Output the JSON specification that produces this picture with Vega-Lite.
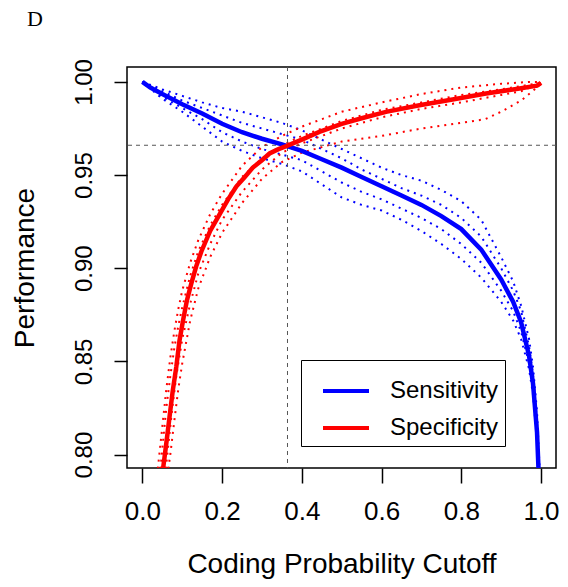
{
  "$schema": "https://vega.github.io/schema/vega-lite/v6.json",
  "width": 429,
  "height": 401,
  "autosize": {"type": "none"},
  "padding": {"left": 127, "top": 67, "right": 12, "bottom": 119},
  "background": "white",
  "title": {"text": "D", "anchor": "start", "frame": "group", "font": "Liberation Serif", "fontSize": 22, "fontWeight": "normal", "color": "black", "dx": -100, "offset": 11, "baseline": "alphabetic"},
  "config": {
    "view": {"stroke": "black", "strokeWidth": 1.5},
    "axis": {"grid": false, "domain": false, "tickColor": "black", "tickWidth": 1.5, "labelFont": "Liberation Sans", "labelColor": "black", "titleFont": "Liberation Sans", "titleColor": "black", "titleFontWeight": "normal"},
    "legend": {"labelFont": "Liberation Sans"}
  },
  "datasets": {
    "main": [
      {"m": "Sensitivity", "x": 0.0, "y": 1.0},
      {"m": "Sensitivity", "x": 0.02, "y": 0.997},
      {"m": "Sensitivity", "x": 0.05, "y": 0.9935},
      {"m": "Sensitivity", "x": 0.1, "y": 0.988},
      {"m": "Sensitivity", "x": 0.15, "y": 0.983},
      {"m": "Sensitivity", "x": 0.2, "y": 0.9775},
      {"m": "Sensitivity", "x": 0.25, "y": 0.973},
      {"m": "Sensitivity", "x": 0.3, "y": 0.9695},
      {"m": "Sensitivity", "x": 0.35, "y": 0.9665},
      {"m": "Sensitivity", "x": 0.4, "y": 0.963},
      {"m": "Sensitivity", "x": 0.45, "y": 0.9585},
      {"m": "Sensitivity", "x": 0.5, "y": 0.954},
      {"m": "Sensitivity", "x": 0.55, "y": 0.949},
      {"m": "Sensitivity", "x": 0.6, "y": 0.944},
      {"m": "Sensitivity", "x": 0.65, "y": 0.939},
      {"m": "Sensitivity", "x": 0.7, "y": 0.934},
      {"m": "Sensitivity", "x": 0.75, "y": 0.928},
      {"m": "Sensitivity", "x": 0.8, "y": 0.921},
      {"m": "Sensitivity", "x": 0.85, "y": 0.91},
      {"m": "Sensitivity", "x": 0.9, "y": 0.894},
      {"m": "Sensitivity", "x": 0.93, "y": 0.882},
      {"m": "Sensitivity", "x": 0.95, "y": 0.871},
      {"m": "Sensitivity", "x": 0.97, "y": 0.853},
      {"m": "Sensitivity", "x": 0.98, "y": 0.838},
      {"m": "Sensitivity", "x": 0.99, "y": 0.812},
      {"m": "Sensitivity", "x": 0.996, "y": 0.78},
      {"m": "Specificity", "x": 0.048, "y": 0.78},
      {"m": "Specificity", "x": 0.052, "y": 0.7926},
      {"m": "Specificity", "x": 0.06, "y": 0.806},
      {"m": "Specificity", "x": 0.068, "y": 0.82},
      {"m": "Specificity", "x": 0.076, "y": 0.834},
      {"m": "Specificity", "x": 0.085, "y": 0.847},
      {"m": "Specificity", "x": 0.093, "y": 0.861},
      {"m": "Specificity", "x": 0.102, "y": 0.872},
      {"m": "Specificity", "x": 0.112, "y": 0.883},
      {"m": "Specificity", "x": 0.123, "y": 0.892},
      {"m": "Specificity", "x": 0.135, "y": 0.901},
      {"m": "Specificity", "x": 0.148, "y": 0.909},
      {"m": "Specificity", "x": 0.17, "y": 0.92},
      {"m": "Specificity", "x": 0.194, "y": 0.929},
      {"m": "Specificity", "x": 0.215, "y": 0.937},
      {"m": "Specificity", "x": 0.236, "y": 0.944},
      {"m": "Specificity", "x": 0.257, "y": 0.949},
      {"m": "Specificity", "x": 0.277, "y": 0.954},
      {"m": "Specificity", "x": 0.3, "y": 0.958},
      {"m": "Specificity", "x": 0.319, "y": 0.9616},
      {"m": "Specificity", "x": 0.34, "y": 0.9638},
      {"m": "Specificity", "x": 0.361, "y": 0.9655},
      {"m": "Specificity", "x": 0.4, "y": 0.969},
      {"m": "Specificity", "x": 0.444, "y": 0.9732},
      {"m": "Specificity", "x": 0.5, "y": 0.9775},
      {"m": "Specificity", "x": 0.55, "y": 0.9805},
      {"m": "Specificity", "x": 0.611, "y": 0.9839},
      {"m": "Specificity", "x": 0.695, "y": 0.9875},
      {"m": "Specificity", "x": 0.778, "y": 0.9906},
      {"m": "Specificity", "x": 0.862, "y": 0.9938},
      {"m": "Specificity", "x": 0.946, "y": 0.9965},
      {"m": "Specificity", "x": 0.99, "y": 0.998},
      {"m": "Specificity", "x": 1.0, "y": 0.9995}
    ],
    "sens_reps": [
      {"r": "1", "x": 0.0, "y": 1.0}, {"r": "1", "x": 0.05, "y": 0.996}, {"r": "1", "x": 0.1, "y": 0.9925}, {"r": "1", "x": 0.15, "y": 0.989}, {"r": "1", "x": 0.2, "y": 0.986}, {"r": "1", "x": 0.25, "y": 0.984}, {"r": "1", "x": 0.3, "y": 0.981}, {"r": "1", "x": 0.35, "y": 0.978}, {"r": "1", "x": 0.4, "y": 0.974}, {"r": "1", "x": 0.45, "y": 0.969}, {"r": "1", "x": 0.5, "y": 0.964}, {"r": "1", "x": 0.55, "y": 0.959}, {"r": "1", "x": 0.6, "y": 0.954}, {"r": "1", "x": 0.65, "y": 0.95}, {"r": "1", "x": 0.7, "y": 0.947}, {"r": "1", "x": 0.75, "y": 0.942}, {"r": "1", "x": 0.8, "y": 0.936}, {"r": "1", "x": 0.85, "y": 0.926}, {"r": "1", "x": 0.9, "y": 0.906}, {"r": "1", "x": 0.93, "y": 0.893}, {"r": "1", "x": 0.95, "y": 0.88}, {"r": "1", "x": 0.97, "y": 0.862}, {"r": "1", "x": 0.98, "y": 0.847}, {"r": "1", "x": 0.99, "y": 0.823}, {"r": "1", "x": 0.998, "y": 0.785},
      {"r": "2", "x": 0.0, "y": 1.0}, {"r": "2", "x": 0.05, "y": 0.995}, {"r": "2", "x": 0.1, "y": 0.99}, {"r": "2", "x": 0.15, "y": 0.986}, {"r": "2", "x": 0.2, "y": 0.982}, {"r": "2", "x": 0.25, "y": 0.978}, {"r": "2", "x": 0.3, "y": 0.975}, {"r": "2", "x": 0.35, "y": 0.972}, {"r": "2", "x": 0.4, "y": 0.969}, {"r": "2", "x": 0.45, "y": 0.964}, {"r": "2", "x": 0.5, "y": 0.959}, {"r": "2", "x": 0.55, "y": 0.953}, {"r": "2", "x": 0.6, "y": 0.948}, {"r": "2", "x": 0.65, "y": 0.943}, {"r": "2", "x": 0.7, "y": 0.939}, {"r": "2", "x": 0.75, "y": 0.934}, {"r": "2", "x": 0.8, "y": 0.927}, {"r": "2", "x": 0.85, "y": 0.917}, {"r": "2", "x": 0.9, "y": 0.9}, {"r": "2", "x": 0.93, "y": 0.888}, {"r": "2", "x": 0.95, "y": 0.877}, {"r": "2", "x": 0.97, "y": 0.858}, {"r": "2", "x": 0.98, "y": 0.843}, {"r": "2", "x": 0.99, "y": 0.818}, {"r": "2", "x": 0.997, "y": 0.785},
      {"r": "3", "x": 0.0, "y": 1.0}, {"r": "3", "x": 0.05, "y": 0.991}, {"r": "3", "x": 0.1, "y": 0.984}, {"r": "3", "x": 0.15, "y": 0.976}, {"r": "3", "x": 0.2, "y": 0.968}, {"r": "3", "x": 0.25, "y": 0.963}, {"r": "3", "x": 0.3, "y": 0.959}, {"r": "3", "x": 0.35, "y": 0.956}, {"r": "3", "x": 0.4, "y": 0.952}, {"r": "3", "x": 0.45, "y": 0.945}, {"r": "3", "x": 0.5, "y": 0.938}, {"r": "3", "x": 0.55, "y": 0.934}, {"r": "3", "x": 0.6, "y": 0.931}, {"r": "3", "x": 0.65, "y": 0.926}, {"r": "3", "x": 0.7, "y": 0.92}, {"r": "3", "x": 0.75, "y": 0.913}, {"r": "3", "x": 0.8, "y": 0.905}, {"r": "3", "x": 0.85, "y": 0.895}, {"r": "3", "x": 0.9, "y": 0.882}, {"r": "3", "x": 0.93, "y": 0.872}, {"r": "3", "x": 0.95, "y": 0.862}, {"r": "3", "x": 0.97, "y": 0.846}, {"r": "3", "x": 0.98, "y": 0.832}, {"r": "3", "x": 0.99, "y": 0.807}, {"r": "3", "x": 0.995, "y": 0.785},
      {"r": "4", "x": 0.0, "y": 1.0}, {"r": "4", "x": 0.05, "y": 0.992}, {"r": "4", "x": 0.1, "y": 0.986}, {"r": "4", "x": 0.15, "y": 0.98}, {"r": "4", "x": 0.2, "y": 0.973}, {"r": "4", "x": 0.25, "y": 0.968}, {"r": "4", "x": 0.3, "y": 0.964}, {"r": "4", "x": 0.35, "y": 0.961}, {"r": "4", "x": 0.4, "y": 0.958}, {"r": "4", "x": 0.45, "y": 0.952}, {"r": "4", "x": 0.5, "y": 0.946}, {"r": "4", "x": 0.55, "y": 0.941}, {"r": "4", "x": 0.6, "y": 0.937}, {"r": "4", "x": 0.65, "y": 0.932}, {"r": "4", "x": 0.7, "y": 0.927}, {"r": "4", "x": 0.75, "y": 0.921}, {"r": "4", "x": 0.8, "y": 0.913}, {"r": "4", "x": 0.85, "y": 0.903}, {"r": "4", "x": 0.9, "y": 0.888}, {"r": "4", "x": 0.93, "y": 0.877}, {"r": "4", "x": 0.95, "y": 0.866}, {"r": "4", "x": 0.97, "y": 0.849}, {"r": "4", "x": 0.98, "y": 0.835}, {"r": "4", "x": 0.99, "y": 0.809}, {"r": "4", "x": 0.995, "y": 0.785}
    ],
    "spec_reps": [
      {"r": "1", "x": 0.035, "y": 0.785}, {"r": "1", "x": 0.04, "y": 0.795}, {"r": "1", "x": 0.05, "y": 0.815}, {"r": "1", "x": 0.06, "y": 0.835}, {"r": "1", "x": 0.07, "y": 0.852}, {"r": "1", "x": 0.08, "y": 0.866}, {"r": "1", "x": 0.09, "y": 0.878}, {"r": "1", "x": 0.1, "y": 0.888}, {"r": "1", "x": 0.12, "y": 0.903}, {"r": "1", "x": 0.14, "y": 0.915}, {"r": "1", "x": 0.17, "y": 0.929}, {"r": "1", "x": 0.2, "y": 0.94}, {"r": "1", "x": 0.25, "y": 0.955}, {"r": "1", "x": 0.3, "y": 0.965}, {"r": "1", "x": 0.35, "y": 0.971}, {"r": "1", "x": 0.4, "y": 0.976}, {"r": "1", "x": 0.45, "y": 0.98}, {"r": "1", "x": 0.5, "y": 0.984}, {"r": "1", "x": 0.6, "y": 0.989}, {"r": "1", "x": 0.7, "y": 0.9935}, {"r": "1", "x": 0.8, "y": 0.997}, {"r": "1", "x": 0.9, "y": 0.999}, {"r": "1", "x": 0.97, "y": 1.0}, {"r": "1", "x": 1.0, "y": 1.0},
      {"r": "2", "x": 0.042, "y": 0.785}, {"r": "2", "x": 0.05, "y": 0.803}, {"r": "2", "x": 0.06, "y": 0.825}, {"r": "2", "x": 0.07, "y": 0.842}, {"r": "2", "x": 0.08, "y": 0.857}, {"r": "2", "x": 0.09, "y": 0.869}, {"r": "2", "x": 0.1, "y": 0.879}, {"r": "2", "x": 0.12, "y": 0.896}, {"r": "2", "x": 0.14, "y": 0.909}, {"r": "2", "x": 0.17, "y": 0.923}, {"r": "2", "x": 0.2, "y": 0.934}, {"r": "2", "x": 0.25, "y": 0.949}, {"r": "2", "x": 0.3, "y": 0.959}, {"r": "2", "x": 0.35, "y": 0.966}, {"r": "2", "x": 0.4, "y": 0.971}, {"r": "2", "x": 0.45, "y": 0.975}, {"r": "2", "x": 0.5, "y": 0.979}, {"r": "2", "x": 0.6, "y": 0.985}, {"r": "2", "x": 0.7, "y": 0.989}, {"r": "2", "x": 0.8, "y": 0.993}, {"r": "2", "x": 0.9, "y": 0.996}, {"r": "2", "x": 1.0, "y": 0.9995},
      {"r": "3", "x": 0.06, "y": 0.785}, {"r": "3", "x": 0.07, "y": 0.8}, {"r": "3", "x": 0.08, "y": 0.818}, {"r": "3", "x": 0.09, "y": 0.835}, {"r": "3", "x": 0.1, "y": 0.849}, {"r": "3", "x": 0.12, "y": 0.872}, {"r": "3", "x": 0.14, "y": 0.889}, {"r": "3", "x": 0.17, "y": 0.906}, {"r": "3", "x": 0.2, "y": 0.919}, {"r": "3", "x": 0.25, "y": 0.935}, {"r": "3", "x": 0.3, "y": 0.948}, {"r": "3", "x": 0.35, "y": 0.957}, {"r": "3", "x": 0.4, "y": 0.962}, {"r": "3", "x": 0.45, "y": 0.965}, {"r": "3", "x": 0.5, "y": 0.968}, {"r": "3", "x": 0.6, "y": 0.971}, {"r": "3", "x": 0.7, "y": 0.975}, {"r": "3", "x": 0.8, "y": 0.978}, {"r": "3", "x": 0.86, "y": 0.98}, {"r": "3", "x": 0.9, "y": 0.984}, {"r": "3", "x": 0.95, "y": 0.99}, {"r": "3", "x": 0.99, "y": 0.997}, {"r": "3", "x": 1.0, "y": 0.999},
      {"r": "4", "x": 0.055, "y": 0.785}, {"r": "4", "x": 0.065, "y": 0.805}, {"r": "4", "x": 0.075, "y": 0.825}, {"r": "4", "x": 0.085, "y": 0.842}, {"r": "4", "x": 0.1, "y": 0.862}, {"r": "4", "x": 0.12, "y": 0.881}, {"r": "4", "x": 0.14, "y": 0.897}, {"r": "4", "x": 0.17, "y": 0.913}, {"r": "4", "x": 0.2, "y": 0.926}, {"r": "4", "x": 0.25, "y": 0.941}, {"r": "4", "x": 0.3, "y": 0.953}, {"r": "4", "x": 0.35, "y": 0.962}, {"r": "4", "x": 0.4, "y": 0.967}, {"r": "4", "x": 0.45, "y": 0.971}, {"r": "4", "x": 0.5, "y": 0.975}, {"r": "4", "x": 0.6, "y": 0.981}, {"r": "4", "x": 0.7, "y": 0.9855}, {"r": "4", "x": 0.8, "y": 0.989}, {"r": "4", "x": 0.9, "y": 0.993}, {"r": "4", "x": 0.95, "y": 0.995}, {"r": "4", "x": 1.0, "y": 0.9995}
    ],
    "vline": [{"x": 0.364}],
    "hline": [{"y": 0.966}]
  },
  "layer": [
    {
      "data": {"name": "sens_reps"},
      "mark": {"type": "line", "clip": true, "color": "#0000ff", "strokeWidth": 2, "strokeDash": [2, 5]},
      "encoding": {
        "x": {"field": "x", "type": "quantitative", "scale": {"domain": [-0.0386, 1.0376], "nice": false, "zero": false},
          "axis": {"values": [0, 0.2, 0.4, 0.6, 0.8, 1.0], "format": ".1f", "tickSize": 15, "labelFontSize": 26, "labelPadding": 15, "title": "Coding Probability Cutoff", "titleFontSize": 28, "titlePadding": 26}},
        "y": {"field": "y", "type": "quantitative", "scale": {"domain": [0.7928, 1.008], "nice": false, "zero": false},
          "axis": {"values": [0.8, 0.85, 0.9, 0.95, 1.0], "format": ".2f", "tickSize": 13, "labelFontSize": 24, "labelAngle": 270, "labelAlign": "center", "labelBaseline": "alphabetic", "labelPadding": 23, "title": "Performance", "titleFontSize": 28, "titlePadding": 33}},
        "detail": {"field": "r"}
      }
    },
    {
      "data": {"name": "spec_reps"},
      "mark": {"type": "line", "clip": true, "color": "#ff0000", "strokeWidth": 2, "strokeDash": [2, 5]},
      "encoding": {
        "x": {"field": "x", "type": "quantitative"},
        "y": {"field": "y", "type": "quantitative"},
        "detail": {"field": "r"}
      }
    },
    {
      "data": {"name": "vline"},
      "mark": {"type": "rule", "color": "#555555", "strokeWidth": 1, "strokeDash": [4, 4]},
      "encoding": {"x": {"field": "x", "type": "quantitative"}}
    },
    {
      "data": {"name": "hline"},
      "mark": {"type": "rule", "color": "#555555", "strokeWidth": 1, "strokeDash": [4, 4]},
      "encoding": {"y": {"field": "y", "type": "quantitative"}}
    },
    {
      "data": {"name": "main"},
      "mark": {"type": "line", "clip": true, "strokeWidth": 4.5},
      "encoding": {
        "x": {"field": "x", "type": "quantitative"},
        "y": {"field": "y", "type": "quantitative"},
        "color": {"field": "m", "type": "nominal",
          "scale": {"domain": ["Sensitivity", "Specificity"], "range": ["#0000ff", "#ff0000"]},
          "legend": {"title": null, "orient": "none", "legendX": 174, "legendY": 293, "strokeColor": "black", "fillColor": "white", "padding": 6, "symbolType": "stroke", "symbolStrokeWidth": 4, "symbolSize": 2116, "symbolOffset": 14, "labelFontSize": 24, "labelOffset": 19, "rowPadding": -18, "labelColor": "black"}}
      }
    }
  ]
}
